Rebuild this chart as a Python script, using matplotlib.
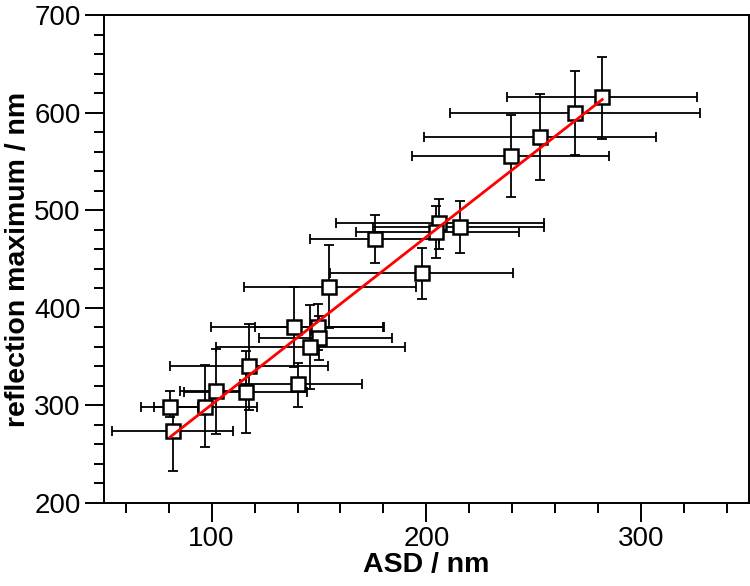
import matplotlib
matplotlib.use("Agg")
import matplotlib.pyplot as plt
import numpy as np
from matplotlib.ticker import MultipleLocator

# ASD (nm) and reflection maximum (nm) with error bar limits
asd = [281.9, 269.0, 252.9, 239.3, 206.0, 204.7, 215.8, 175.9, 197.8, 154.7,
       138.2, 149.6, 150.0, 146.0, 117.6, 140.0, 102.0, 115.8, 97.1, 80.8, 81.9]
asd_lo = [237.7, 211.2, 198.9, 193.1, 158.0, 167.0, 175.0, 146.0, 155.1, 115.2,
          99.8, 120.0, 121.9, 102.2, 80.8, 113.0, 85.5, 87.0, 73.0, 67.0, 53.8]
asd_hi = [325.9, 327.5, 307.1, 285.0, 255.0, 243.0, 255.0, 205.7, 240.2, 195.3,
          180.1, 180.0, 184.2, 190.2, 154.0, 170.1, 117.0, 144.4, 121.2, 93.8, 109.8]
refl = [615.9, 599.5, 575.4, 555.5, 486.7, 477.5, 482.9, 470.6, 435.9, 421.7,
        380.4, 380.4, 369.3, 359.8, 340.7, 321.6, 314.7, 313.9, 298.6, 297.9, 273.4]
refl_lo = [572.7, 556.7, 530.7, 514.0, 460.0, 451.0, 455.7, 445.8, 409.5, 379.0,
           339.5, 357.0, 346.0, 317.0, 295.6, 298.2, 270.7, 271.9, 257.0, 288.0, 232.5]
refl_hi = [657.6, 642.7, 619.0, 598.0, 511.2, 503.9, 509.6, 495.5, 461.8, 464.5,
           421.0, 403.4, 392.0, 403.0, 383.5, 343.0, 357.5, 356.0, 341.0, 314.7, 296.3]

fit_slope = 1.72
fit_intercept = 128.7

x = np.array(asd); y = np.array(refl)
xerr = np.array([x - np.array(asd_lo), np.array(asd_hi) - x])
yerr = np.array([y - np.array(refl_lo), np.array(refl_hi) - y])

plt.rcParams['font.family'] = ['Liberation Sans', 'DejaVu Sans']

fig = plt.figure(figsize=(7.5, 5.86), dpi=100)
ax = fig.add_axes([0.139, 0.142, 0.859, 0.832])

ax.errorbar(x, y, xerr=xerr, yerr=yerr, fmt='none', ecolor='black',
            elinewidth=1.3, capsize=3.5, capthick=1.3, zorder=2)
ax.plot(x, y, 's', markersize=10, markerfacecolor='white',
        markeredgecolor='black', markeredgewidth=1.8, linestyle='none', zorder=3)

xf = np.array([min(asd), max(asd)])
ax.plot(xf, fit_slope * xf + fit_intercept, color='#ff0000', lw=2.0, zorder=4)

ax.set_xlim(50, 350)
ax.set_ylim(200, 700)
ax.xaxis.set_major_locator(MultipleLocator(100))
ax.xaxis.set_minor_locator(MultipleLocator(20))
ax.yaxis.set_major_locator(MultipleLocator(100))
ax.yaxis.set_minor_locator(MultipleLocator(20))
ax.tick_params(which='major', direction='out', length=14, width=1.4, labelsize=20, pad=3)
ax.tick_params(which='minor', direction='out', length=7, width=1.4)
for s in ax.spines.values():
    s.set_linewidth(1.4)

ax.set_xlabel('ASD / nm', fontsize=20.5, fontweight='bold', labelpad=0)
ax.set_ylabel('reflection maximum / nm', fontsize=20.5, fontweight='bold', labelpad=2)

fig.savefig('out.png', dpi=100)
